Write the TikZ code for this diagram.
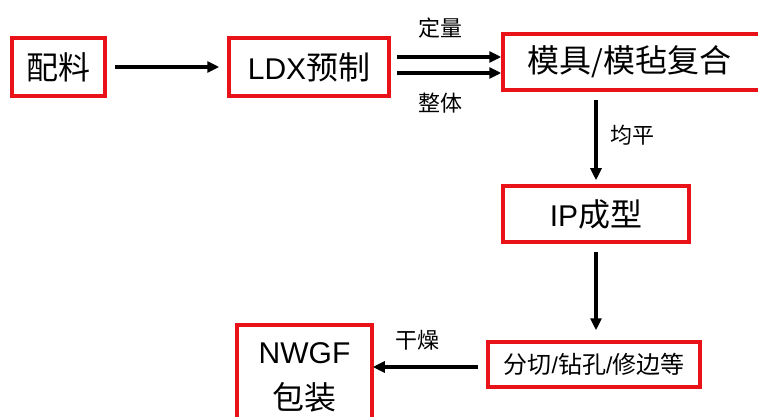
\documentclass[tikz,border=0pt]{standalone}
\usepackage{fontspec}
\setmainfont{Liberation Sans}
\newfontfamily\cjk{Noto Sans CJK SC}
\usetikzlibrary{arrows.meta}
\definecolor{boxred}{RGB}{232,18,24}
\newcommand{\bigtxt}{\fontsize{30}{44}\selectfont}
\newcommand{\bigcjk}{\cjk\fontsize{32}{44}\selectfont}
\newcommand{\midcjk}{\cjk\fontsize{24}{28}\selectfont}
\tikzset{
  procbox/.style={draw=boxred, line width=3.5pt, rectangle, inner sep=0pt, align=center, text=black},
  flowarr/.style={line width=3.5pt, -{Triangle[length=12pt,width=11pt]}, black},
  steplabel/.style={font=\cjk\fontsize{22}{26}\selectfont, text=black, inner sep=0pt}
}
\begin{document}
\begin{tikzpicture}[x=1pt,y=-1pt]
\useasboundingbox (0,0) rectangle (758,417);
\clip (0,0) rectangle (758,417);
\fill[white] (0,0) rectangle (758,417);

\node[procbox, minimum width=93pt, minimum height=58pt] (peiliao) at (58.5,67) {\bigcjk 配料};
\node[procbox, minimum width=160pt, minimum height=58pt] (ldx) at (309,67) {\bigtxt LDX{\bigcjk 预制}};
\node[procbox, minimum width=264pt, minimum height=56pt] (mold) at (635,62) {};
\node[inner sep=0pt] (moldtxt) at (629.5,62) {\bigcjk 模具{\bigtxt /}模毡复合};
\node[procbox, minimum width=186pt, minimum height=56pt] (ip) at (596,214) {\bigtxt IP{\bigcjk 成型}};
\node[procbox, minimum width=212pt, minimum height=45pt] (cut) at (594,364.5) {\midcjk 分切{\fontsize{23}{28}\selectfont\rmfamily /}钻孔{\fontsize{23}{28}\selectfont\rmfamily /}修边等};
\node[procbox, minimum width=135pt, minimum height=100pt] (nwgf) at (304.5,375) {};
\node[inner sep=0pt, font=\bigtxt] (nwgftop) at (304.5,353) {NWGF};
\node[inner sep=0pt, font=\bigcjk] (nwgfbot) at (304.5,397) {包装};

\draw[flowarr, shorten <=8pt, shorten >=8pt] (peiliao.east) -- (ldx.west);
\draw[flowarr, shorten <=6pt] ([yshift=10pt]ldx.east) -- ([yshift=10pt]ldx.east -| mold.west);
\draw[flowarr, shorten <=6pt] ([yshift=-6pt]ldx.east) -- ([yshift=-6pt]ldx.east -| mold.west);
\draw[flowarr, shorten <=8pt, shorten >=4pt] (ip.north |- mold.south) -- (ip.north);
\draw[flowarr, shorten <=8pt, shorten >=10pt] (ip.south) -- (ip.south |- cut.north);
\draw[flowarr, shorten <=8pt, shorten >=-1pt] ([yshift=-2.5pt]cut.west) -- ([yshift=-2.5pt]cut.west -| nwgf.east);

\node[steplabel] (dingliang) at (440,28) {定量};
\node[steplabel] (zhengti) at (440,103) {整体};
\node[steplabel] (junping) at (632,135) {均平};
\node[steplabel] (ganzao) at (417,340) {干燥};
\end{tikzpicture}
\end{document}
